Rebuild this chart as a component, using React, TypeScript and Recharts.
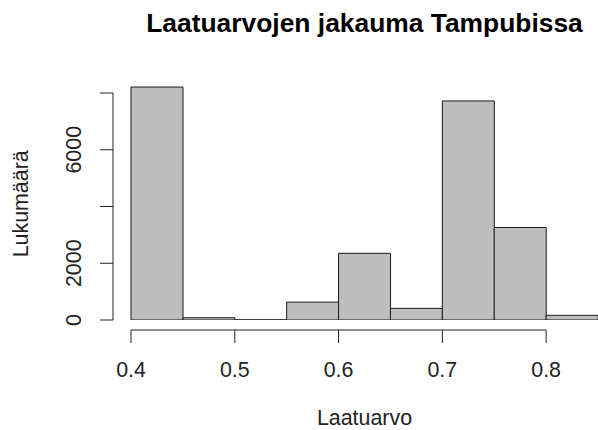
import { BarChart, Bar, XAxis, YAxis } from "recharts";

// histogram bins (0.05 wide) and counts
const binStarts = [0.4, 0.45, 0.5, 0.55, 0.6, 0.65, 0.7, 0.75, 0.8];
const binLabels = ["0.40", "0.45", "0.50", "0.55", "0.60", "0.65", "0.70", "0.75", "0.80"];
const counts = [8210, 80, 5, 630, 2350, 410, 7720, 3260, 165];

const xTicks = [0.4, 0.5, 0.6, 0.7, 0.8];
const xTickLabels = ["0.4", "0.5", "0.6", "0.7", "0.8"];
const yTicks = [0, 2000, 4000, 6000, 8000];
const yTickLabels = ["0", "2000", "", "6000", ""];

const X_MIN = 0.4;
const X_MAX = 0.85;
const Y_MAX = 8400;

const FONT = "'Liberation Sans', Arial, Helvetica, sans-serif";
const FS = 21.4;
const AXIS = "#222";

const data = binStarts.map((s, i) => ({ bin: binLabels[i], start: s, count: counts[i] }));

function XTick(props: any) {
  const { x, y, payload, index } = props;
  const w = typeof props.width === "number" ? props.width : 467;
  const pxPerUnit = w / (X_MAX - X_MIN);
  const next = xTicks[index + 1];
  const ly = y + 10;
  return (
    <g>
      {next !== undefined && (
        <line x1={x} y1={ly} x2={x + (next - payload.value) * pxPerUnit} y2={ly} stroke={AXIS} strokeWidth={1} />
      )}
      <line x1={x} y1={ly} x2={x} y2={ly + 13} stroke={AXIS} strokeWidth={1} />
      <text x={x} y={y + 57} textAnchor="middle" fontFamily={FONT} fontSize={FS} fill="#222">
        {xTickLabels[index]}
      </text>
    </g>
  );
}

function YTick(props: any) {
  const { x, y, payload, index } = props;
  const h = typeof props.height === "number" ? props.height : 238.35;
  const pxPerUnit = h / Y_MAX;
  const next = yTicks[index + 1];
  const lx = x - 18;
  return (
    <g>
      {next !== undefined && (
        <line x1={lx} y1={y} x2={lx} y2={y - (next - payload.value) * pxPerUnit} stroke={AXIS} strokeWidth={1} />
      )}
      <line x1={lx - 13} y1={y} x2={lx} y2={y} stroke={AXIS} strokeWidth={1} />
      {yTickLabels[index] && (
        <text
          x={lx - 39.5}
          y={y}
          transform={`rotate(-90, ${lx - 39.5}, ${y})`}
          textAnchor="middle"
          dominantBaseline="central"
          fontFamily={FONT}
          fontSize={FS}
          fill="#222"
        >
          {yTickLabels[index]}
        </text>
      )}
    </g>
  );
}

function YLabel(props: any) {
  const vb = props.viewBox || { x: 0, y: 81.65, width: 131, height: 238.35 };
  const cx = 28;
  const cy = vb.y + vb.height / 2 + 3;
  return (
    <text
      x={cx}
      y={cy}
      transform={`rotate(-90, ${cx}, ${cy})`}
      textAnchor="middle"
      fontFamily={FONT}
      fontSize={FS}
      fill="#222"
    >
      Lukumäärä
    </text>
  );
}

export default function App() {
  return (
    <div style={{ position: "absolute", left: 0, top: 0, width: 598, height: 430, background: "#fff" }}>
      <div
        style={{
          position: "absolute",
          left: 131,
          width: 467,
          top: 10.4,
          textAlign: "center",
          fontFamily: FONT,
          fontWeight: "bold",
          fontSize: 26.4,
          lineHeight: "26.4px",
          color: "#000",
          whiteSpace: "nowrap",
        }}
      >
        Laatuarvojen jakauma Tampubissa
      </div>
      <BarChart
        width={598}
        height={430}
        data={data}
        margin={{ top: 81.65, right: 0, bottom: 0, left: 0 }}
        barCategoryGap={0}
        barGap={0}
      >
        <XAxis xAxisId="cat" dataKey="bin" type="category" height={0} hide />
        <XAxis
          xAxisId="num"
          dataKey="start"
          type="number"
          domain={[X_MIN, X_MAX]}
          allowDataOverflow
          ticks={xTicks}
          interval={0}
          height={110}
          tickSize={0}
          tickMargin={0}
          axisLine={false}
          tickLine={false}
          tick={<XTick />}
          label={{
            value: "Laatuarvo",
            position: "insideBottom",
            offset: 5,
            style: { fontFamily: FONT, fontSize: FS, fill: "#222" },
          }}
        />
        <YAxis
          type="number"
          width={131}
          domain={[0, Y_MAX]}
          allowDataOverflow
          ticks={yTicks}
          interval={0}
          tickSize={0}
          tickMargin={0}
          axisLine={false}
          tickLine={false}
          tick={<YTick />}
          label={<YLabel />}
        />
        <Bar
          xAxisId="cat"
          dataKey="count"
          fill="#bebebe"
          stroke="#1a1a1a"
          strokeWidth={1}
          isAnimationActive={false}
        />
      </BarChart>
    </div>
  );
}
